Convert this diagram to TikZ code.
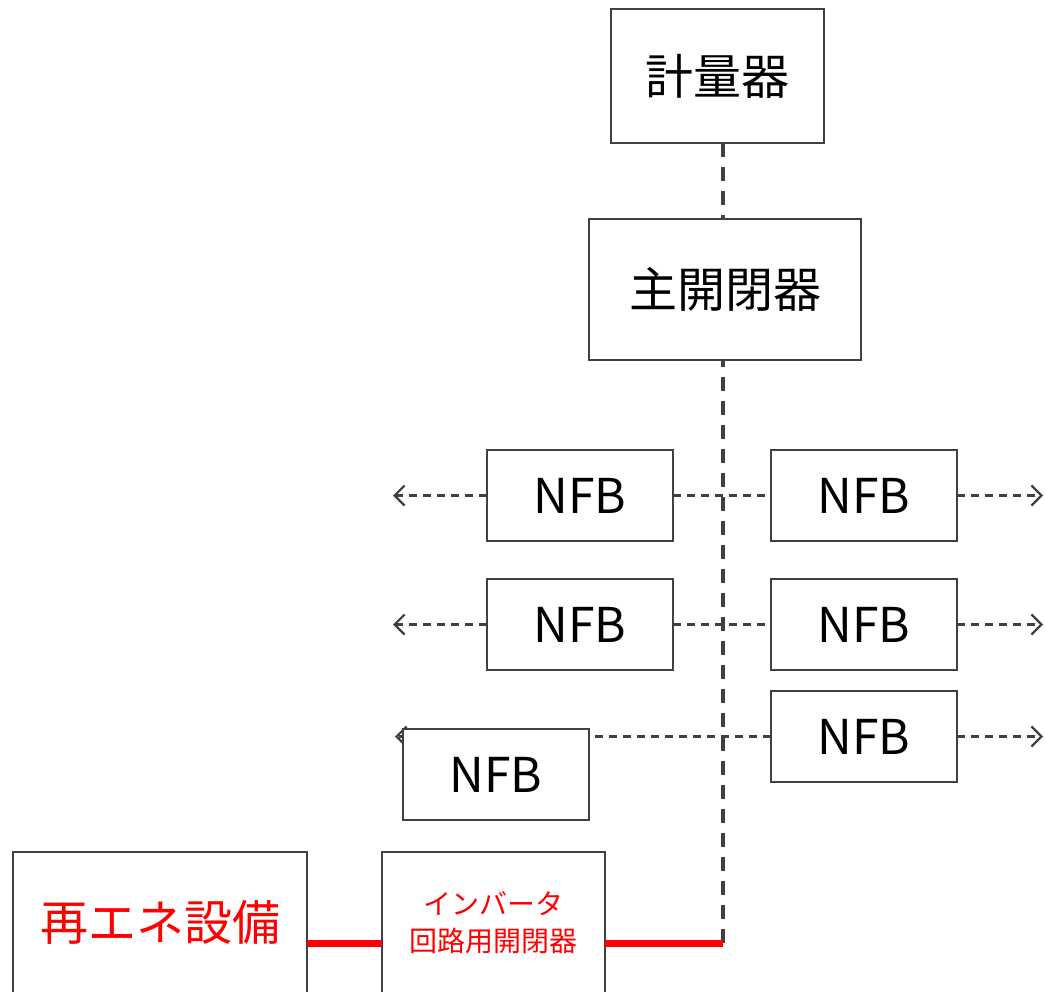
\documentclass[tikz,border=0pt]{standalone}
\usepackage{fontspec}
\setmainfont{Noto Sans CJK JP}
\usetikzlibrary{%
  arrows.meta,%
  positioning% wg. " of "
}
\definecolor{linegray}{HTML}{404040}

\begin{document}
\begin{tikzpicture}[x=1pt,y=-1pt,
    box/.style={draw=linegray,line width=2.5pt,fill=white,inner sep=0pt,outer sep=0pt,font=\fontsize{48}{56}\selectfont},
    nfb/.style={box,minimum width=186pt,minimum height=91pt},
    feed/.style={linegray,line width=2.2pt,dash pattern=on 8pt off 6pt,-{Straight Barb[length=10pt,width=20pt,line width=2.2pt]}},
    tie/.style={linegray,line width=2.2pt,dash pattern=on 8pt off 6pt},
    trunk/.style={linegray,line width=3.5pt,dash pattern=on 14pt off 10pt},
    pv/.style={red,line width=7pt}]
    \useasboundingbox (0,0) rectangle (1046,991);

    %meter and main switch
    \node[box,minimum width=213pt,minimum height=134pt] (meter) at (717.5,76) {計量器};
    \node[box,minimum width=272pt,minimum height=141pt] (mainsw) at (725,289.5) {主開閉器};
    \coordinate (bus) at (723,943);

    %branch breakers
    \node[nfb] (nfbL1) at (580,495.5) {NFB};
    \node[nfb] (nfbR1) [right=98pt of nfbL1] {NFB};
    \node[nfb] (nfbL2) [below=38pt of nfbL1] {NFB};
    \node[nfb] (nfbR2) [right=98pt of nfbL2] {NFB};
    \node[nfb] (nfbR3) [below=21pt of nfbR2] {NFB};

    %renewable side
    \node[box,text=red,minimum width=294pt,minimum height=148pt] (renew) at (160,926) {\raisebox{12pt}{再エネ設備}};
    \node[box,text=red,align=center,minimum width=223pt,minimum height=148pt,font=\fontsize{28}{37}\selectfont] (inverter) at (493.5,926) {\raisebox{7pt}{\begin{tabular}{@{}c@{}}インバータ\\回路用開閉器\end{tabular}}};

    \foreach \r in {1,2} {
      \coordinate (inL\r) at ([xshift=-94pt]nfbL\r.west);
    }
    \coordinate (inL3) at ([xshift=-376pt]nfbR3.west);
    \foreach \r in {1,2,3} {
      \coordinate (outR\r) at ([xshift=86pt]nfbR\r.east);
    }

    \draw[trunk] (meter.south -| bus) -- (mainsw.north -| bus);
    \draw[trunk] (bus) -- (mainsw.south -| bus);

    \foreach \r in {1,2} {
      \draw[feed] (nfbL\r.west) -- (inL\r);
      \draw[tie] (nfbL\r.east) -- (nfbR\r.west);
    }
    \foreach \r in {1,2,3} {
      \draw[feed] (nfbR\r.east) -- (outR\r);
    }
    \draw[feed] (nfbR3.west) -- (inL3);

    %sits on top of the third feeder
    \node[nfb] (nfbL3) at (496,774.5) {NFB};

    \draw[pv] (renew.east |- bus) -- (inverter.west |- bus);
    \draw[pv] (inverter.east |- bus) -- (bus);
\end{tikzpicture}
\end{document}
